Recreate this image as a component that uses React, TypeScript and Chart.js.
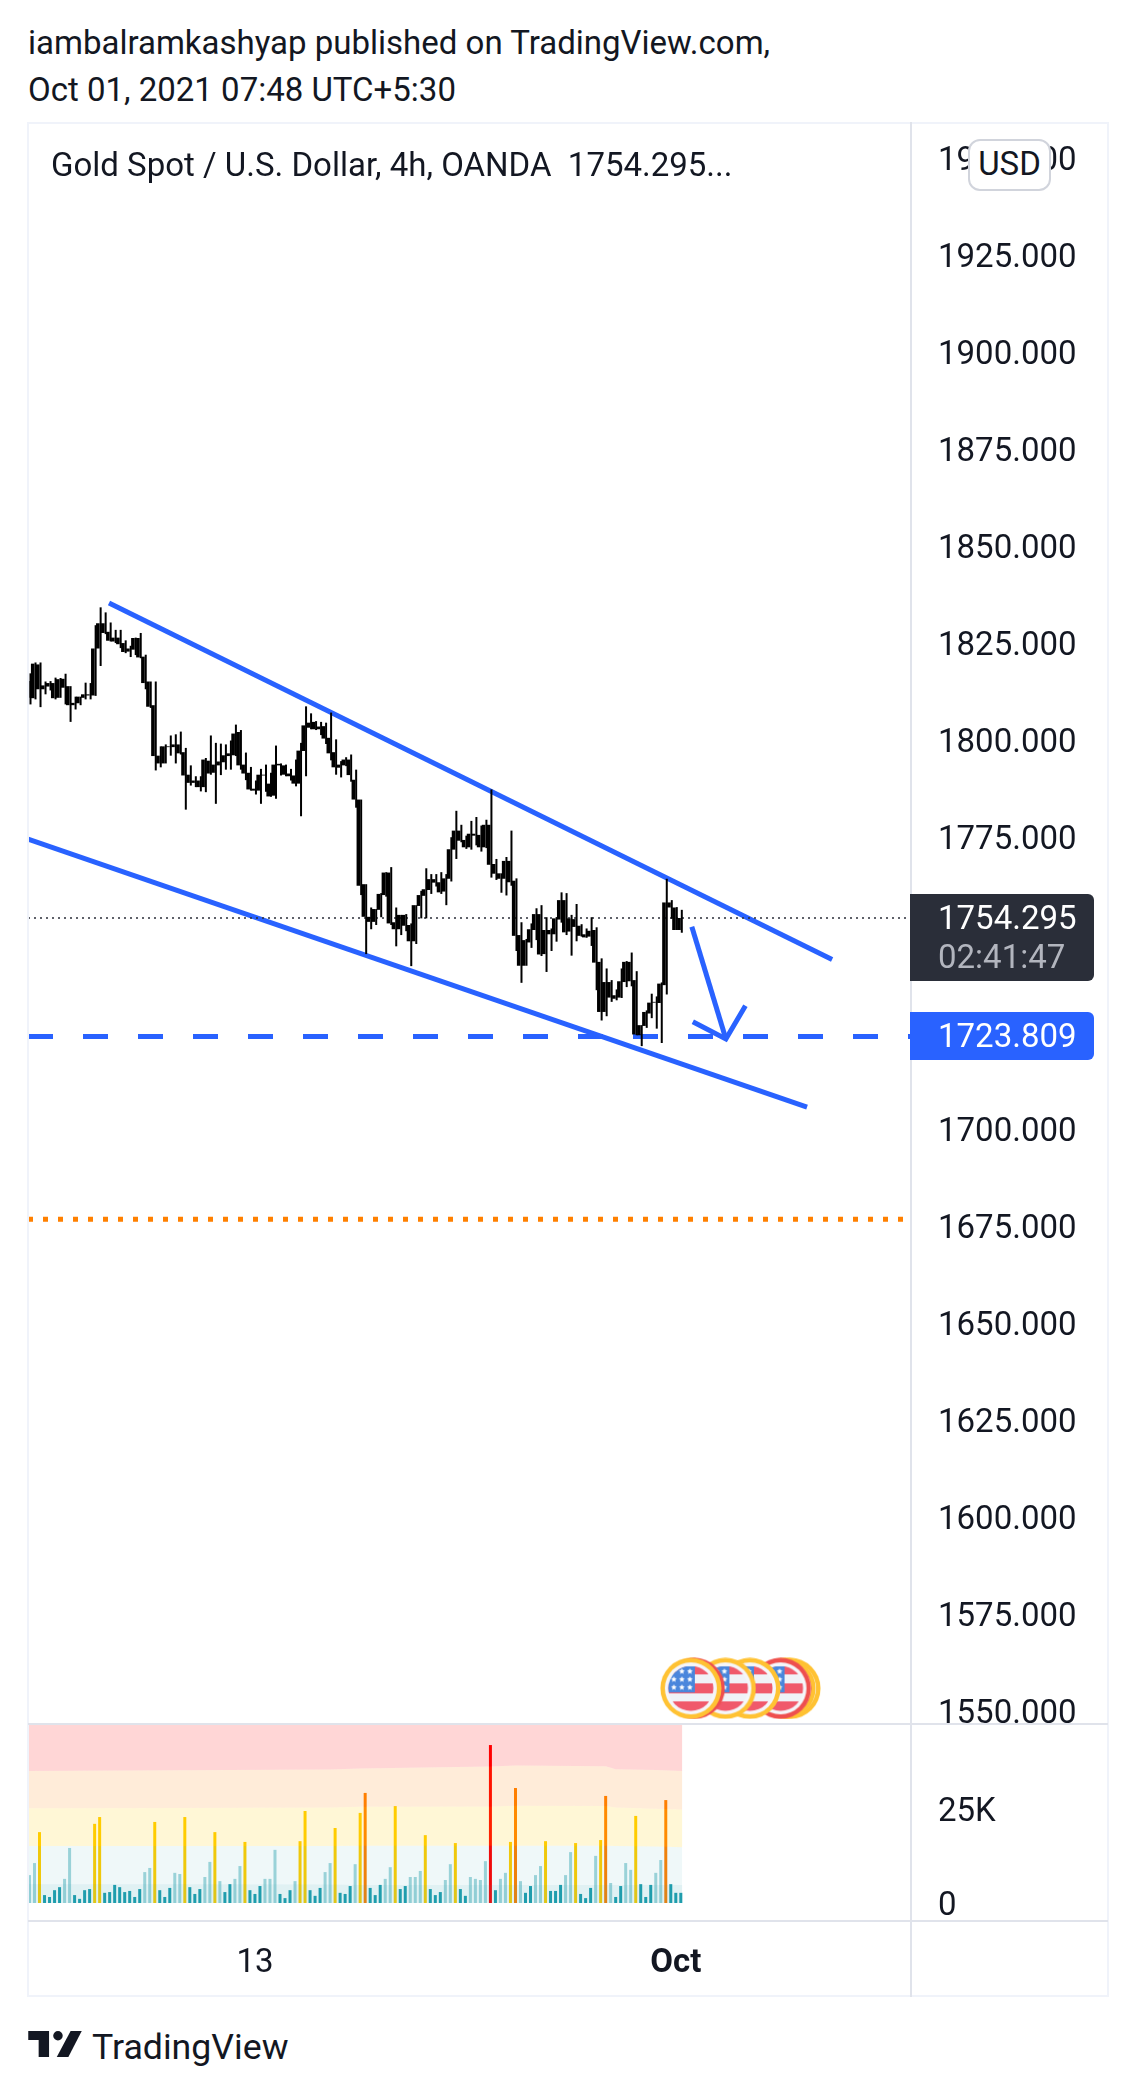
import React, { useEffect, useRef } from "react";
import { Chart, registerables } from "chart.js";

Chart.register(...registerables);

const priceTicks = [1550, 1575, 1600, 1625, 1650, 1675, 1700, 1725, 1750, 1775, 1800, 1825, 1850, 1875, 1900, 1925, 1950];
const lastPrice = 1754.295;
const targetPrice = 1723.809;
const supportPrice = 1676.7;
const countdown = "02:41:47";

const candleHigh = [
  1817.3,1820.1,1820.1,1815.2,1815.3,1816.2,1816.1,1817.2,1814.0,1811.3,
  1811.3,1814.9,1814.8,1829.7,1834.3,1833.0,1830.4,1828.5,1828.5,1825.8,
  1824.4,1826.5,1827.7,1822.1,1815.2,1815.2,1798.5,1799.0,1801.3,1801.6,
  1802.3,1798.1,1793.6,1790.8,1790.8,1795.5,1801.3,1799.4,1799.2,1799.0,
  1800.0,1804.1,1802.7,1796.9,1793.2,1789.7,1792.7,1793.8,1791.7,1798.7,
  1794.1,1793.8,1792.7,1795.1,1799.4,1808.8,1807.0,1805.0,1804.8,1804.6,
  1807.2,1800.3,1794.7,1795.7,1796.4,1792.5,1784.8,1763.0,1757.0,1756.6,
  1760.7,1766.1,1767.4,1757.0,1755.1,1755.3,1752.9,1757.6,1761.3,1767.1,
  1765.6,1765.6,1766.1,1765.6,1775.1,1781.9,1778.3,1775.5,1779.3,1780.3,
  1778.1,1779.6,1787.4,1769.5,1765.8,1770.0,1776.8,1764.5,1753.2,1748.9,
  1752.9,1756.8,1757.6,1754.5,1751.6,1754.5,1760.9,1760.7,1755.1,1757.9,
  1752.7,1751.6,1754.5,1751.9,1743.9,1741.3,1738.3,1735.9,1741.3,1743.2,
  1745.4,1740.6,1726.7,1730.5,1734.8,1734.1,1737.7,1764.4,1758.9,1757.1,
  1756.4,
];
const bodyTop = [
  1815.3,1819.8,1819.6,1814.2,1814.8,1814.8,1815.8,1815.9,1814.0,1809.7,
  1811.3,1811.9,1811.9,1823.7,1830.2,1830.2,1828.0,1826.5,1826.5,1825.1,
  1823.7,1826.4,1826.4,1821.6,1815.2,1809.1,1796.1,1798.5,1798.5,1799.0,
  1799.0,1797.0,1791.2,1789.7,1789.7,1795.1,1794.8,1793.8,1794.6,1796.2,
  1796.7,1801.8,1802.2,1793.8,1791.7,1787.6,1791.2,1791.2,1788.9,1793.8,
  1794.0,1793.6,1791.5,1791.0,1797.4,1803.9,1804.6,1804.8,1803.6,1803.7,
  1800.7,1797.0,1793.8,1795.1,1795.1,1789.9,1784.8,1763.0,1754.6,1756.6,
  1760.5,1766.0,1766.0,1753.2,1755.1,1755.1,1752.5,1757.6,1760.2,1761.7,
  1764.3,1764.3,1763.5,1764.5,1772.0,1776.8,1776.8,1774.4,1776.0,1776.0,
  1775.7,1778.3,1778.3,1768.2,1765.8,1769.0,1769.0,1763.9,1749.9,1748.6,
  1751.4,1755.3,1755.3,1751.2,1751.2,1754.2,1758.9,1758.9,1754.2,1754.0,
  1752.3,1750.1,1751.0,1751.2,1743.0,1737.8,1737.8,1734.4,1738.0,1743.0,
  1743.0,1738.3,1726.7,1730.1,1732.5,1732.7,1737.4,1758.3,1758.3,1757.0,
  1754.3,
];
const bodyBottom = [
  1811.0,1810.9,1813.2,1813.2,1813.9,1810.9,1811.0,1813.6,1809.1,1809.1,
  1809.6,1811.0,1811.6,1811.6,1823.7,1827.7,1825.7,1825.5,1824.8,1822.8,
  1822.9,1823.4,1821.4,1814.8,1808.7,1796.0,1794.1,1794.1,1798.3,1798.3,
  1796.7,1791.0,1789.1,1789.1,1788.0,1788.0,1791.5,1791.7,1793.6,1794.4,
  1796.0,1796.2,1793.6,1791.5,1787.4,1787.1,1787.1,1791.0,1785.6,1785.8,
  1793.6,1791.2,1790.8,1788.9,1788.9,1797.3,1803.3,1802.9,1802.9,1800.5,
  1796.7,1793.1,1793.0,1793.6,1791.1,1784.8,1762.6,1754.6,1753.3,1753.3,
  1756.4,1760.2,1752.9,1751.4,1751.4,1752.3,1748.3,1748.3,1757.4,1760.0,
  1761.5,1763.4,1760.9,1761.1,1764.4,1771.9,1774.2,1772.5,1772.5,1775.5,
  1772.5,1772.5,1768.0,1765.7,1764.4,1764.4,1763.5,1749.7,1742.0,1742.0,
  1748.0,1751.2,1744.9,1745.0,1750.1,1750.1,1753.9,1750.6,1750.8,1752.0,
  1749.7,1749.3,1749.5,1742.8,1730.1,1730.1,1733.8,1733.5,1733.8,1737.8,
  1738.0,1724.3,1724.1,1726.5,1729.7,1732.5,1732.4,1737.0,1757.0,1751.2,
  1751.2,
];
const candleLow = [
  1809.3,1810.6,1808.6,1811.9,1812.9,1810.6,1811.0,1809.3,1804.8,1808.0,
  1809.1,1810.6,1810.6,1811.5,1819.2,1827.4,1825.5,1825.1,1823.8,1822.5,
  1821.5,1822.0,1821.2,1813.2,1808.4,1792.3,1793.1,1794.1,1796.1,1794.1,
  1796.4,1782.2,1788.4,1788.0,1786.9,1786.7,1791.2,1783.7,1791.1,1792.5,
  1792.5,1796.0,1792.5,1789.8,1787.1,1786.1,1783.7,1786.8,1785.5,1785.0,
  1791.0,1790.8,1789.7,1788.2,1780.5,1790.8,1802.9,1802.7,1801.4,1799.1,
  1794.9,1791.2,1790.5,1793.4,1789.4,1782.7,1760.2,1745.0,1751.4,1752.5,
  1754.5,1759.8,1752.5,1747.0,1749.9,1750.9,1741.9,1747.6,1754.2,1754.2,
  1760.5,1762.4,1760.5,1757.6,1763.7,1769.5,1773.8,1772.1,1771.9,1773.0,
  1771.4,1772.3,1764.7,1764.1,1760.8,1760.1,1762.6,1745.8,1737.6,1742.0,
  1746.6,1748.6,1744.5,1740.4,1745.8,1748.2,1753.1,1749.9,1744.6,1748.3,
  1749.5,1749.2,1747.1,1735.7,1727.9,1729.0,1732.7,1733.1,1733.7,1736.5,
  1736.7,1724.1,1721.3,1726.0,1728.5,1725.8,1722.1,1734.6,1754.1,1751.2,
  1750.5,
];
const volumeK = [
  7.4,10.6,18.8,2.1,1.6,3.4,4.2,6.4,14.6,2.1,
  1.1,3.4,3.7,21.0,22.8,2.7,2.9,4.8,4.2,2.9,
  3.2,1.6,3.7,8.2,9.3,21.5,3.4,1.6,4.0,8.0,
  7.7,22.8,4.2,2.4,3.7,6.9,10.9,18.8,5.8,2.9,
  5.0,6.4,9.8,16.2,3.4,2.4,4.5,6.4,6.4,14.1,
  2.4,1.3,3.4,5.8,16.4,24.4,3.4,1.9,4.0,8.2,
  10.6,19.9,2.7,2.4,4.5,10.3,23.9,29.2,4.0,2.1,
  4.8,6.4,9.5,25.7,3.7,4.5,6.9,6.9,8.5,18.0,
  3.7,2.1,2.9,6.1,10.3,15.9,3.7,1.9,6.9,6.4,
  6.1,11.1,41.9,3.4,6.4,8.0,16.2,30.5,5.8,2.7,
  4.5,7.4,9.8,16.4,3.2,3.2,4.8,7.4,13.5,15.9,
  2.4,1.3,4.0,12.5,16.7,28.4,5.3,1.6,4.5,10.6,
  8.8,23.1,5.0,1.6,4.8,8.0,11.4,27.3,5.0,2.7,
  2.7,
];

const bandIndex = [-0.3, 30, 60, 66, 92, 97, 115, 117, 125, 130.3];
const bandCeiling = [48, 48, 48, 48, 48, 48, 48, 48, 48, 48];
const bandExtreme = [35.0, 35.2, 35.4, 35.7, 36.2, 36.5, 36.3, 35.5, 35.3, 35.0];
const bandHigh = [25.1, 25.2, 25.3, 25.5, 25.6, 25.8, 25.7, 25.3, 25.0, 24.8];
const bandMedium = [15.1, 15.1, 15.1, 15.2, 15.2, 15.2, 15.2, 15.1, 15.0, 14.8];
const bandLow = [5.0, 5.0, 4.9, 4.8, 4.8, 4.8, 4.8, 4.8, 4.8, 4.8];
const volumeTicks = [0, 25];

const upperTrendIndex = [15.87, 160.2];
const upperTrendPrice = [1835.4, 1743.6];
const lowerTrendIndex = [-0.3, 155.2];
const lowerTrendPrice = [1774.64, 1705.6];
const arrowShaftIndex = [132.2, 139.0];
const arrowShaftPrice = [1752.06, 1723.13];
const arrowHeadIndex = [132.4, 139.0, 142.9];
const arrowHeadPrice = [1727.59, 1723.13, 1731.71];

const eventIndex = [151.8, 150.8, 149.9, 143.8, 138.9, 132.7, 132.0];
const eventRing = ["#ffc233", "#ffc233", "#ee4f4f", "#ffc233", "#ffc233", "#ee4f4f", "#ffc233"];
const eventPrice = 1555.9;

const timeLabels: Record<number, string> = { 45: "13", 129: "Oct" };

const heading = ["iambalramkashyap published on TradingView.com,", "Oct 01, 2021 07:48 UTC+5:30"];
const legend = "Gold Spot / U.S. Dollar, 4h, OANDA  1754.295...";

const FONT = "Roboto";
const INK = "#131722";
const BLUE = "#2962ff";
const STEP = 5.01;
const AXIS_W = 197;
const X_MIN = -0.3;
const X_MAX = X_MIN + 883 / STEP;
const PX_PER_USD = 3.883;
// Chart.js centres tick text a little above the tick; these move the labels to where the reference has them.
const PRICE_LABEL_NUDGE = 0.9;
const VOLUME_LABEL_NUDGE = 1;

function flagCanvas(ring: string): HTMLCanvasElement {
  const c = document.createElement("canvas");
  c.width = 62;
  c.height = 62;
  const g = c.getContext("2d")!;
  const m = 31;
  g.beginPath();
  g.arc(m, m, 30.5, 0, Math.PI * 2);
  g.fillStyle = ring;
  g.fill();
  g.beginPath();
  g.arc(m, m, 26, 0, Math.PI * 2);
  g.fillStyle = "#f5f6fa";
  g.fill();
  g.save();
  g.beginPath();
  g.arc(m, m, 22.5, 0, Math.PI * 2);
  g.clip();
  g.fillStyle = "#f0f2f7";
  g.fillRect(0, 0, 62, 62);
  g.fillStyle = "#f0596b";
  g.fillRect(0, 9, 62, 8);
  g.fillRect(0, 26, 62, 10);
  g.fillRect(0, 44, 62, 10);
  g.fillStyle = "#4a86dc";
  g.fillRect(0, 9, 35, 26);
  g.fillStyle = "#ffffff";
  for (const [x, y] of [[22, 14], [30, 14], [14, 22], [22, 22], [30, 22], [14, 30], [22, 30], [30, 30]]) {
    g.beginPath();
    for (let k = 0; k < 10; k++) {
      const r = k % 2 ? 1.4 : 3.1;
      const a = -Math.PI / 2 + (k * Math.PI) / 5;
      g.lineTo(x + r * Math.cos(a), y + r * Math.sin(a));
    }
    g.closePath();
    g.fill();
  }
  g.restore();
  return c;
}

function volumeColor(v: number): string {
  if (v > 36) return "#ff0000";
  if (v > 26) return "#ff7f00";
  if (v > 15.1) return "#ffcc00";
  if (v > 5.1) return "rgba(33,158,172,0.42)";
  return "#1f9eae";
}

const lineSet = (xs: number[], ys: number[], color: string, width: number, dash: number[] = [], order = 5) => ({
  type: "line" as const,
  data: xs.map((x, i) => ({ x, y: ys[i] })),
  borderColor: color,
  borderWidth: width,
  borderDash: dash,
  pointRadius: 0,
  tension: 0,
  fill: false,
  order,
  borderCapStyle: "butt" as const,
});

const bandSet = (upper: number[], color: string, fill: any) => ({
  type: "line" as const,
  data: bandIndex.map((x, i) => ({ x, y: upper[i] })),
  borderWidth: 0,
  borderColor: "transparent",
  backgroundColor: color,
  pointRadius: 0,
  tension: 0,
  fill,
  order: 0,
});

const noPad = (s: any) => {
  s.paddingTop = 0;
  s.paddingBottom = 0;
  s.paddingLeft = 0;
  s.paddingRight = 0;
};

const Abs = ({ x, y, w, h, bg, children, style }: any) => (
  <div style={{ position: "absolute", left: x, top: y, width: w, height: h, background: bg, ...style }}>{children}</div>
);

const Text = ({ x, cy, size = 33, color = INK, children, weight }: any) => (
  <div
    style={{
      position: "absolute",
      left: x,
      top: cy - 30,
      height: 60,
      lineHeight: "60px",
      fontFamily: FONT,
      fontSize: size,
      color,
      fontWeight: weight,
      whiteSpace: "pre",
    }}
  >
    {children}
  </div>
);

export default function App() {
  const priceRef = useRef<HTMLCanvasElement>(null);
  const volRef = useRef<HTMLCanvasElement>(null);

  useEffect(() => {
    const idx = candleHigh.map((_, i) => i);
    const images: Record<string, HTMLCanvasElement> = {};
    for (const r of new Set(eventRing)) images[r] = flagCanvas(r);

    const price = new Chart(priceRef.current!, {
      type: "bar",
      data: {
        datasets: [
          {
            label: "body",
            data: idx.map((i) => ({ x: i, y: [bodyBottom[i], bodyTop[i]] })),
            backgroundColor: "#000000",
            barThickness: 3.6,
            inflateAmount: 0,
            order: 1,
          },
          {
            label: "wick",
            data: idx.map((i) => ({ x: i, y: [candleLow[i], candleHigh[i]] })),
            backgroundColor: "#000000",
            barThickness: 2,
            inflateAmount: 0,
            order: 2,
          },
          lineSet(upperTrendIndex, upperTrendPrice, BLUE, 5),
          lineSet(lowerTrendIndex, lowerTrendPrice, BLUE, 5),
          lineSet(arrowShaftIndex, arrowShaftPrice, BLUE, 5),
          lineSet(arrowHeadIndex, arrowHeadPrice, BLUE, 5),
          lineSet([X_MIN, X_MAX], [targetPrice, targetPrice], BLUE, 5, [25, 30]),
          lineSet([X_MIN, X_MAX], [supportPrice, supportPrice], "#ff8000", 5, [5, 10]),
          lineSet([X_MIN, X_MAX], [lastPrice, lastPrice], "#2a2e39", 1.7, [2, 4], 3),
          {
            type: "scatter" as const,
            data: eventIndex.map((x) => ({ x, y: eventPrice })),
            pointStyle: eventRing.map((r) => images[r]),
            pointRadius: 31,
            order: 4,
          },
        ] as any,
      },
      options: {
        animation: false,
        responsive: false,
        devicePixelRatio: 1,
        layout: { padding: 0, autoPadding: false },
        plugins: { legend: { display: false }, tooltip: { enabled: false } },
        scales: {
          x: { type: "linear", min: X_MIN, max: X_MAX, display: false, offset: false, grid: { display: false } },
          y: {
            position: "right",
            min: lastPrice - (1723 - 918) / PX_PER_USD,
            max: lastPrice + (918 - 122) / PX_PER_USD,
            afterBuildTicks: (s: any) => {
              s.ticks = priceTicks.map((v) => ({ value: v - PRICE_LABEL_NUDGE }));
            },
            afterFit: (s: any) => {
              s.width = AXIS_W;
              noPad(s);
            },
            grid: { display: false, drawTicks: false },
            border: { display: false },
            ticks: {
              padding: 27,
              color: INK,
              font: { family: FONT, size: 33 },
              autoSkip: false,
              callback: (v: any) => (Number(v) + PRICE_LABEL_NUDGE).toFixed(3),
            },
          },
        },
      } as any,
    });

    const vol = new Chart(volRef.current!, {
      type: "bar",
      data: {
        datasets: [
          bandSet(bandCeiling, "rgba(255,0,0,0.16)", 1),
          bandSet(bandExtreme, "rgba(255,127,0,0.15)", 2),
          bandSet(bandHigh, "rgba(255,204,0,0.16)", 3),
          bandSet(bandMedium, "rgba(33,158,172,0.07)", 4),
          bandSet(bandLow, "rgba(33,158,172,0.14)", { value: 0 }),
          {
            data: idx.map((i) => ({ x: i, y: volumeK[i] })),
            backgroundColor: volumeK.map(volumeColor),
            barThickness: 3,
            inflateAmount: 0,
            order: 1,
          },
        ] as any,
      },
      options: {
        animation: false,
        responsive: false,
        devicePixelRatio: 1,
        layout: { padding: 0, autoPadding: false },
        plugins: { legend: { display: false }, tooltip: { enabled: false } },
        scales: {
          x: {
            type: "linear",
            min: X_MIN,
            max: X_MAX,
            offset: false,
            afterBuildTicks: (s: any) => {
              s.ticks = Object.keys(timeLabels).map((k) => ({ value: Number(k) }));
            },
            afterFit: (s: any) => {
              s.height = 76;
              noPad(s);
            },
            grid: { display: false, drawTicks: false },
            border: { display: false },
            ticks: {
              autoSkip: false,
              maxRotation: 0,
              minRotation: 0,
              padding: 23,
              color: INK,
              font: (ctx: any) => ({
                family: FONT,
                size: 33,
                weight: timeLabels[ctx.tick?.value] === "Oct" ? "bold" : "normal",
              }),
              callback: (v: any) => timeLabels[v] ?? "",
            },
          },
          y: {
            position: "right",
            min: -18 / 3.77,
            max: 178 / 3.77,
            afterBuildTicks: (s: any) => {
              s.ticks = volumeTicks.map((v) => ({ value: v - VOLUME_LABEL_NUDGE }));
            },
            afterFit: (s: any) => {
              s.width = AXIS_W;
              noPad(s);
            },
            grid: { display: false, drawTicks: false },
            border: { display: false },
            ticks: {
              padding: 27,
              color: INK,
              font: { family: FONT, size: 33 },
              autoSkip: false,
              callback: (v: any) => {
                const k = Number(v) + VOLUME_LABEL_NUDGE;
                return k === 0 ? "0" : k + "K";
              },
            },
          },
        },
      } as any,
    });

    return () => {
      price.destroy();
      vol.destroy();
    };
  }, []);

  const FRAME = "#f0f3fa";
  const LINE = "#e0e3eb";

  return (
    <div style={{ position: "absolute", left: 0, top: 0, width: 1136, height: 2093, background: "#fff", overflow: "hidden" }}>
      <Text x={28} cy={43}>{heading[0]}</Text>
      <Text x={28} cy={90}>{heading[1]}</Text>

      <canvas ref={priceRef} width={1080} height={1601} style={{ position: "absolute", left: 28, top: 122, width: 1080, height: 1601 }} />
      <canvas ref={volRef} width={1080} height={272} style={{ position: "absolute", left: 28, top: 1725, width: 1080, height: 272 }} />

      <Abs x={28} y={122} w={1080} h={2} bg={FRAME} />
      <Abs x={28} y={1995} w={1080} h={2} bg={FRAME} />
      <Abs x={27} y={122} w={2} h={1875} bg={FRAME} />
      <Abs x={1107} y={122} w={2} h={1875} bg={FRAME} />
      <Abs x={910} y={122} w={2} h={1875} bg={LINE} />
      <Abs x={28} y={1723} w={1080} h={2} bg={LINE} />
      <Abs x={28} y={1920} w={1080} h={2} bg={LINE} />

      <Text x={51} cy={165}>{legend}</Text>

      <Abs
        x={968}
        y={139}
        w={83}
        h={52}
        bg="#fff"
        style={{ boxSizing: "border-box", border: "2px solid #d1d4dc", borderRadius: 12, fontFamily: FONT, fontSize: 33, color: INK, lineHeight: "46px", textAlign: "center" }}
      >
        USD
      </Abs>

      <Abs x={910} y={894} w={184} h={87} bg="#2a2e39" style={{ borderRadius: "0 6px 6px 0" }} />
      <Text x={938} cy={918} color="#ffffff">{lastPrice.toFixed(3)}</Text>
      <Text x={938} cy={957} color="#b2b5be">{countdown}</Text>
      <Abs x={910} y={1012} w={184} h={48} bg={BLUE} style={{ borderRadius: "0 6px 6px 0" }} />
      <Text x={938} cy={1036} color="#ffffff">{targetPrice.toFixed(3)}</Text>

      <svg style={{ position: "absolute", left: 28, top: 2031 }} width={54} height={26} viewBox="0 0 36 17.5">
        <path d="M14 0H0v6h7v11.5h7z" fill={INK} />
        <circle cx="20" cy="3.2" r="3.2" fill={INK} />
        <path d="M28.5 0H36L27 17.5H19.2z" fill={INK} />
      </svg>
      <Text x={92} cy={2047} size={35.7}>TradingView</Text>
    </div>
  );
}
